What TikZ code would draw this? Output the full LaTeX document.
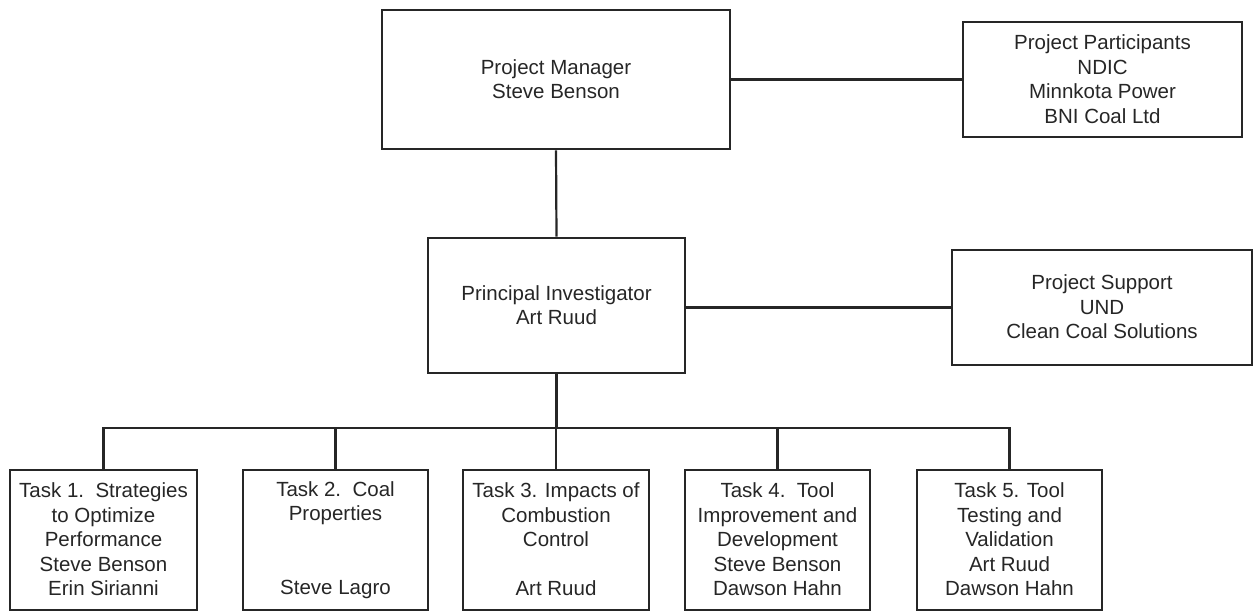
\documentclass[tikz,border=0pt]{standalone}
\usepackage{fontspec}
\setmainfont{Liberation Sans}
\usepackage{tikz}
\usepackage{xcolor}

\newcommand{\boxstrut}{\rule[-1.2pt]{0pt}{19.2pt}}

\begin{document}
\begin{tikzpicture}[x=1pt,y=-1pt,
  box/.style={draw=black!85, line width=2.6pt, align=center, inner sep=0pt,
    text=black!85, font=\fontsize{20.5}{24.5}\selectfont,
    execute at begin node=\boxstrut, execute at end node=\boxstrut},
  link/.style={draw=black!85, line width=2.2pt}]
\useasboundingbox (0,0) rectangle (1256,611);
% top level
\node [box, minimum width=348pt, minimum height=139pt] (pm) at (556,79.5) {Project Manager\\Steve Benson};
\node [box, minimum width=279pt, minimum height=115pt] (part) at (1102.5,79.5) {Project Participants\\NDIC\\Minnkota Power\\BNI Coal Ltd};
% second level
\node [box, minimum width=257pt, minimum height=135pt] (pi) at (556.5,305.5) {Principal Investigator\\Art Ruud};
\node [box, minimum width=300pt, minimum height=115pt] (supp) at (1102,307.5) {Project Support\\UND\\Clean Coal Solutions};
% tasks
\node [box, minimum width=187pt, minimum height=140pt] (t1) at (103.5,540) {Task 1.\ \ Strategies\\to Optimize\\Performance\\Steve Benson\\Erin Sirianni};
\node [box, minimum width=185pt, minimum height=140pt] (t2) at (335.5,540) {Task 2.\ \ Coal\\Properties\\\mbox{}\\\mbox{}\\Steve Lagro};
\node [box, minimum width=186pt, minimum height=140pt] (t3) at (556,540) {Task 3. Impacts of\\Combustion\\Control\\\mbox{}\\Art Ruud};
\node [box, minimum width=185pt, minimum height=140pt] (t4) at (777.5,540) {Task 4.\ \ Tool\\Improvement and\\Development\\Steve Benson\\Dawson Hahn};
\node [box, minimum width=185pt, minimum height=140pt] (t5) at (1009.5,540) {Task 5. Tool\\Testing and\\Validation\\Art Ruud\\Dawson Hahn};
\coordinate (bus) at (556.5,428);

\draw [link] (pm.south) -- (pi.north);
\draw [link] (pm.east) -- (part.west);
\draw [link] (pi.east |- supp.west) -- (supp.west);
\draw [link] (pi.south) -- (bus);
\draw [link] (t1.north) |- (bus) -| (t5.north);
\draw [link] (t2.north) -- (t2.north |- bus);
\draw [link] (t3.north) -- (t3.north |- bus);
\draw [link] (t4.north) -- (t4.north |- bus);

\end{tikzpicture}
\end{document}
